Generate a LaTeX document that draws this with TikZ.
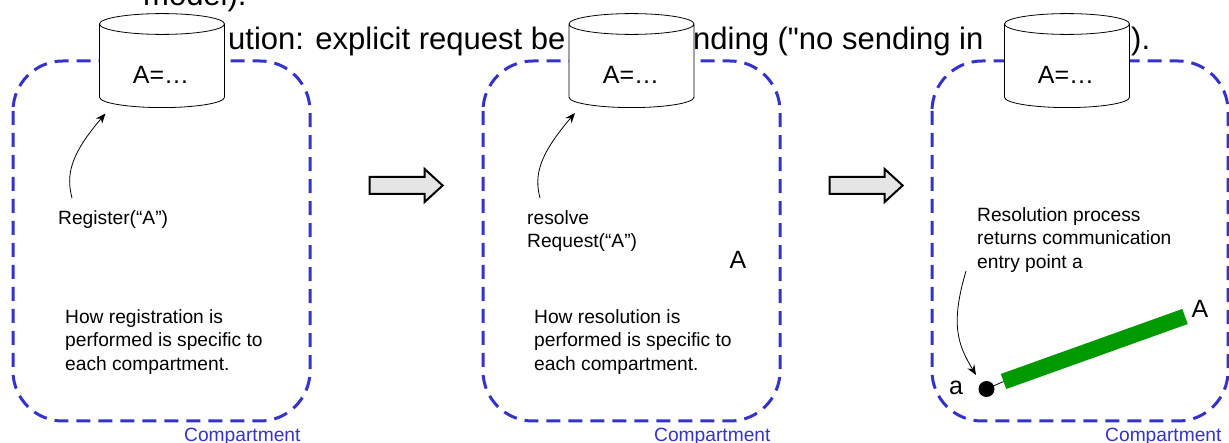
\documentclass[tikz,border=0pt]{standalone}
\usepackage{fontspec}
\setmainfont{Liberation Sans}
\newfontfamily\plainsans{Liberation Sans}
\usetikzlibrary{shapes.geometric,shapes.arrows,arrows.meta}
\tikzset{
  x=1pt,y=-1pt,
  bigtext/.style={anchor=base west,inner sep=0pt,font=\plainsans\fontsize{31}{31}\selectfont},
  store/.style={shape=cylinder,shape border rotate=90,aspect=0.37,draw=black,fill=white,line width=0.8pt,minimum width=125pt,minimum height=94pt,inner sep=0pt,font=\fontsize{25}{30}\selectfont},
  storetext/.style={inner sep=0pt,font=\fontsize{25}{30}\selectfont},
  comp/.style={draw=blueC,dash pattern=on 14pt off 8pt,line width=3pt,rounded corners=50pt},
  complabel/.style={text=blueC,inner sep=0pt,anchor=base west,font=\fontsize{19.2}{23}\selectfont},
  lbl/.style={inner sep=0pt,anchor=north west,align=left,font=\fontsize{19.2}{23.5}\selectfont},
  flow/.style={shape=single arrow,draw=black,fill=black!10,line width=2pt,minimum width=33pt,minimum height=73pt,single arrow head extend=8pt,single arrow tip angle=85,inner sep=0pt},
  curve/.style={draw=black,line width=0.8pt,-{Stealth[length=10pt,width=8pt]}},
  bigA/.style={inner sep=0pt,font=\fontsize{25}{30}\selectfont}
}
\definecolor{blueC}{HTML}{3333CC}
\definecolor{greenC}{HTML}{009900}
\begin{document}
\begin{tikzpicture}
\useasboundingbox (0,0) rectangle (1229,443);
\begin{scope}
\clip (0,0) rectangle (1229,443);
\node[bigtext] (t0) at (143,6) {model).};
\node[bigtext] (t1) at (228,50) {ution: explicit request be};
\node[bigtext] (t2) at (693,50) {nding ("no sending in};
\node[bigtext] (t3) at (1131,50) {).};
% compartments
\draw[comp] (13,61) rectangle (310,421);
\draw[comp] (483,61) rectangle (780,421);
\draw[comp] (932,61) rectangle (1228,421);
\end{scope}
\node[complabel] (c1) at (184,441.5) {Compartment};
\node[complabel] (c2) at (654,441.5) {Compartment};
\node[complabel] (c3) at (1105,441.5) {Compartment};
% stores
\node[store] (s1) at (162,66) {\phantom{A=…}};
\node[store] (s2) at (631.5,66) {\phantom{A=…}};
\node[store] (s3) at (1067,66) {\phantom{A=…}};
\node[storetext] (n1) at (161,75) {A=…};
\node[storetext] (n2) at (631,75) {A=…};
\node[storetext] (n3) at (1066,75) {A=…};
% flow arrows
\node[flow] (f1) at (401.5,185.5) {\rule{0pt}{15pt}};
\node[flow] (f2) at (861.5,185.5) {\rule{0pt}{15pt}};
% labels
\node[lbl] (r1) at (58,210) {Register(“A”)};
\node[lbl] (h1) at (65,309) {How registration is\\performed is specific to\\each compartment.};
\node[lbl] (r2) at (527,210) {resolve\\Request(“A”)};
\node[lbl] (h2) at (534,309) {How resolution is\\performed is specific to\\each compartment.};
\node[lbl] (r3) at (977,207) {Resolution process\\returns communication\\entry point a};
\node[bigA] (A2) at (738,260) {A};
\node[bigA] (A3) at (1200,309) {A};
\node[bigA] (a3) at (956,388) {a};
% end points
\coordinate (e1) at (105.5,113.5);
\coordinate (e2) at (575,113);
\coordinate (b1) at (72,198);
\coordinate (b2) at (540,198);
\coordinate (b3) at (966,271);
\coordinate (e3) at (976,375);
\draw[curve] (b1) .. controls (66,175) and (70,155) .. (e1);
\draw[curve] (b2) .. controls (534,175) and (539,155) .. (e2);
\draw[curve] (b3) .. controls (950,325) and (958,345) .. (e3);
% entry point and bar
\node[circle,fill=black,minimum size=16pt,inner sep=0pt] (dot) at (986.5,389) {};
\coordinate (g1) at (1003.5,381.5);
\coordinate (g2) at (1185,316.5);
\draw[black,line width=0.8pt] (dot) -- (g1);
\draw[greenC,line width=16pt] (g1) -- (g2);
\end{tikzpicture}
\end{document}
